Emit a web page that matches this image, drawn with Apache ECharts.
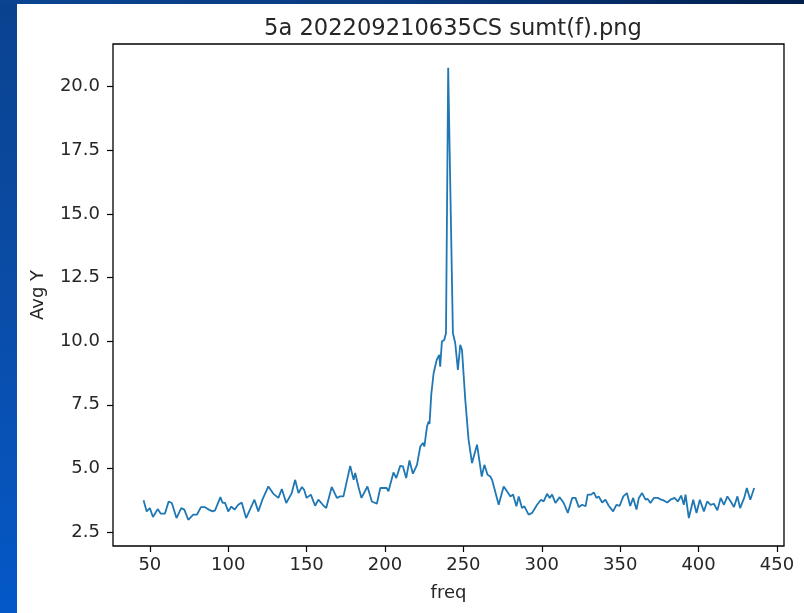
<!DOCTYPE html>
<html>
<head>
<meta charset="utf-8">
<script src="https://cdn.jsdelivr.net/npm/echarts@6/dist/echarts.min.js"></script>
<style>
html,body{margin:0;padding:0;width:804px;height:613px;overflow:hidden;}
body{background:linear-gradient(to bottom,#0a428f 0%,#0a4da8 50%,#0458c8 100%);position:relative;}
#top{position:absolute;left:0;top:0;width:804px;height:4px;background:linear-gradient(to right,#0b4592 0%,#0a3a7e 50%,#001f4d 100%);}
#paper{position:absolute;left:17px;top:4px;width:787px;height:609px;background:#fff;}
#chart{position:absolute;left:0;top:0;width:804px;height:613px;}
</style>
</head>
<body>
<div id="top"></div>
<div id="paper"></div>
<div id="chart"></div>
<script>
const titleText = '5a 202209210635CS sumt(f).png';
const xName = 'freq';
const yName = 'Avg Y';
const xTicks = [50, 100, 150, 200, 250, 300, 350, 400, 450];
const yTicks = [2.5, 5.0, 7.5, 10.0, 12.5, 15.0, 17.5, 20.0];
const freq = [46,48,50,52,55,57,59.6,62,64,67,70,72,74.5,77.7,80,82.6,85,87,90,91.6,95,96.3,98,100,102,104,106.4,108.6,111.4,114,116.7,119.2,121.8,125.6,128.8,132,134.2,137,140.5,142.7,144.8,147,148.4,150,152.7,155.4,157.5,160.3,162.5,166,169.3,171.4,173.5,177.8,180,181,183,185,188.8,191.6,194.8,197,201,202.2,205.4,207.2,209.7,211.4,213.5,215.6,217.8,220.4,222.5,224.2,225.1,226.8,227.8,228.4,229.5,231,233,234.6,235.2,236.3,237.8,238.9,240.3,241.3,243.3,244.8,246.5,248,249.1,251.2,253.3,255.5,258.7,261.7,263.4,265.4,267.2,268.3,269.3,272.5,275.7,277.8,280,281.7,283.8,285.3,287.4,288.9,291.6,293.8,297,299.5,301.2,303.4,305,306.6,308.7,311.4,314,316.6,319.4,321.5,323.6,325.8,327.9,329.3,331.5,333.2,334.9,336.3,338.5,340.6,342.7,345.5,347.6,349.7,352,354.3,356.4,358.3,360.4,361.9,364,366.2,367.6,369.3,371.5,374,376.2,377.8,380,382.1,384.7,386.8,388.9,390.6,391.7,393.8,396.6,398.7,400.8,403.4,405.5,407.7,409.8,412,414.1,416.2,418.4,420.5,422.6,424.8,426.5,429.1,430.8,433,435.5];
const avgY = [3.75,3.31,3.44,3.09,3.40,3.22,3.22,3.70,3.64,3.05,3.44,3.38,2.98,3.18,3.18,3.48,3.48,3.40,3.31,3.35,3.87,3.66,3.64,3.31,3.50,3.38,3.57,3.66,3.05,3.40,3.77,3.31,3.77,4.29,4.00,3.84,4.19,3.64,4.03,4.55,4.03,4.27,4.16,3.84,3.97,3.53,3.77,3.57,3.44,4.27,3.84,3.90,3.90,5.10,4.55,4.82,4.29,3.84,4.29,3.70,3.61,4.23,4.23,4.10,4.84,4.62,5.10,5.08,4.62,5.31,4.79,5.14,5.86,6.00,5.86,6.65,6.84,6.75,7.90,8.74,9.27,9.46,9.00,9.99,10.05,10.32,20.75,20.72,10.32,9.92,8.87,9.86,9.66,7.70,6.13,5.21,5.93,4.68,5.14,4.75,4.68,4.55,4.55,3.57,4.29,4.10,3.90,3.97,3.51,3.90,3.44,3.51,3.18,3.25,3.57,3.77,3.70,4.00,3.84,3.97,3.64,3.87,3.64,3.25,3.84,3.84,3.48,3.57,3.51,3.97,3.97,4.06,3.84,3.90,3.66,3.77,3.53,3.31,3.57,3.53,3.90,4.03,3.52,3.84,3.38,3.84,4.03,3.77,3.80,3.64,3.84,3.84,3.77,3.74,3.66,3.77,3.84,3.70,3.93,3.57,3.97,3.05,3.77,3.25,3.77,3.31,3.70,3.57,3.61,3.35,3.84,3.57,3.90,3.70,3.48,3.90,3.44,3.84,4.23,3.77,4.23];

const data = freq.map((f, i) => [f, avgY[i]]);
const FONT = 'DejaVu Sans';
const TXT = '#262626';

const chart = echarts.init(document.getElementById('chart'), null, {renderer: 'canvas'});
chart.setOption({
  backgroundColor: 'transparent',
  animation: false,
  title: {
    text: titleText,
    left: 448,
    top: 13,
    textAlign: 'center',
    textStyle: {fontFamily: FONT, fontSize: 22.6, fontWeight: 'normal', color: TXT}
  },
  grid: {
    left: 113, top: 44, right: 20, bottom: 67,
    show: true, borderColor: '#000', borderWidth: 1.3, backgroundColor: '#fff'
  },
  xAxis: {
    type: 'value',
    min: 26.5, max: 454.5,
    name: xName, nameLocation: 'middle', nameGap: 38,
    nameTextStyle: {fontFamily: FONT, fontSize: 18, color: TXT},
    axisLine: {show: false},
    splitLine: {show: false},
    axisTick: {show: true, inside: false, length: 6, lineStyle: {color: '#000', width: 1.2}, customValues: xTicks},
    axisLabel: {show: true, margin: 10, fontFamily: FONT, fontSize: 18, color: TXT, customValues: xTicks, formatter: v => String(v)}
  },
  yAxis: {
    type: 'value',
    min: 1.95, max: 21.68,
    name: yName, nameLocation: 'middle', nameGap: 66, nameRotate: 90,
    nameTextStyle: {fontFamily: FONT, fontSize: 18, color: TXT},
    axisLine: {show: false},
    splitLine: {show: false},
    axisTick: {show: true, inside: false, length: 6, lineStyle: {color: '#000', width: 1.2}, customValues: yTicks},
    axisLabel: {show: true, margin: 13, fontFamily: FONT, fontSize: 18, color: TXT, customValues: yTicks, formatter: v => v.toFixed(1)}
  },
  series: [{
    type: 'line',
    data: data,
    showSymbol: false,
    symbol: 'none',
    smooth: false,
    lineStyle: {color: '#1f77b4', width: 1.8},
    itemStyle: {color: '#1f77b4'}
  }]
});
</script>
</body>
</html>
